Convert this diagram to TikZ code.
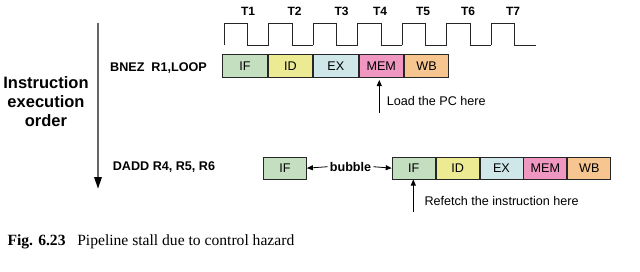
\documentclass[tikz,border=0pt]{standalone}
\usepackage{fontspec}
\setmainfont{Liberation Serif}
\setsansfont{Liberation Sans}
\usetikzlibrary{arrows.meta}
\definecolor{cIF}{HTML}{C3DFC0}
\definecolor{cID}{HTML}{ECEB94}
\definecolor{cEX}{HTML}{CFE7E8}
\definecolor{cMEM}{HTML}{EF97C0}
\definecolor{cWB}{HTML}{F6C590}
\tikzset{
  stage/.style={draw=black!85, line width=0.9pt, minimum width=44.5pt, minimum height=22.5pt, inner sep=0pt, anchor=north west,
    font=\sffamily\fontsize{12.6}{14}\selectfont},
  stage2/.style={stage, minimum width=43pt, minimum height=22pt},
  lbl/.style={font=\sffamily\fontsize{12.6}{14}\selectfont, inner sep=0pt},
  blbl/.style={font=\sffamily\bfseries\fontsize{12.6}{14}\selectfont, inner sep=0pt},
  tlbl/.style={font=\sffamily\bfseries\fontsize{12}{14}\selectfont, inner sep=0pt},
  arr/.style={-{Triangle[length=6pt,width=5pt]}, line width=0.8pt},
  clock/.style={line width=0.9pt, black!85},
}
\begin{document}
\begin{tikzpicture}[x=1pt,y=-1pt]
\useasboundingbox (0,0) rectangle (640,271);
% clock
\foreach \s in {224,268.5,313,357.5,402,446.5,491}
  \draw[clock, line join=miter] (\s,45) -- (\s,23) -- (\s+23.5,23) -- (\s+23.5,45) -- (\s+44.5,45);
\foreach \t/\x in {1/248,2/294.5,3/341.5,4/380,5/423,6/468,7/513}
  \node[tlbl] (t\t) at (\x,11.5) {T\t};
% order arrow
\draw[black!60, line width=1.6pt] (98,22.7) -- (98,178);
\node[inner sep=0pt] (tip) at (98,188.5) {};
\fill[black] (94,177) -- (102,177) -- (98,188.5) -- cycle;
\node[align=center, font=\sffamily\bfseries\fontsize{16.5}{19}\selectfont, inner sep=0pt] (order) at (46,101.5) {Instruction\\execution\\order};
% row 1
\node[blbl, anchor=west] (bnez) at (110,68.3) {BNEZ\ \ R1,LOOP};
\node[stage, fill=cIF] (if1) at (222.3,54.3) {IF};
\node[stage, fill=cID] (id1) at (if1.north east) {ID};
\node[stage, fill=cEX] (ex1) at (id1.north east) {EX};
\node[stage, fill=cMEM] (mem1) at (ex1.north east) {MEM};
\node[stage, fill=cWB] (wb1) at (mem1.north east) {WB};
\coordinate (loadfoot) at (379.3,113);
\draw[arr] (loadfoot) -- (379.3,80);
\node[lbl, anchor=west] (load) at (386.7,100.7) {Load the PC here};
% row 2
\node[blbl, anchor=west] (dadd) at (112.7,166.7) {DADD R4, R5, R6};
\node[stage2, fill=cIF] (ifb) at (263,156.7) {IF};
\node[blbl] (bubble) at (350.5,166.7) {bubble};
\node[stage2, fill=cIF] (if2) at (391.7,156.7) {IF};
\node[stage2, fill=cID] (id2) at (if2.north east) {ID};
\node[stage2, fill=cEX] (ex2) at (id2.north east) {EX};
\node[stage2, fill=cMEM] (mem2) at (ex2.north east) {MEM};
\node[stage2, fill=cWB] (wb2) at (mem2.north east) {WB};
\draw[arr] (bubble.west) ++(-2,0) -- (ifb.east);
\draw[arr] (bubble.east) ++(2,0) -- (if2.west);
\coordinate (reffoot) at (413.3,212);
\draw[arr] (reffoot) -- (413.3,179.5);
\node[lbl, anchor=west] (refetch) at (424.3,200.7) {Refetch the instruction here};
% caption
\node[anchor=west, inner sep=0pt, font=\fontsize{15.6}{18}\selectfont] (cap) at (7.3,241.5) {\textbf{Fig. 6.23}\hspace{0.75em}Pipeline stall due to control hazard};
\end{tikzpicture}
\end{document}
